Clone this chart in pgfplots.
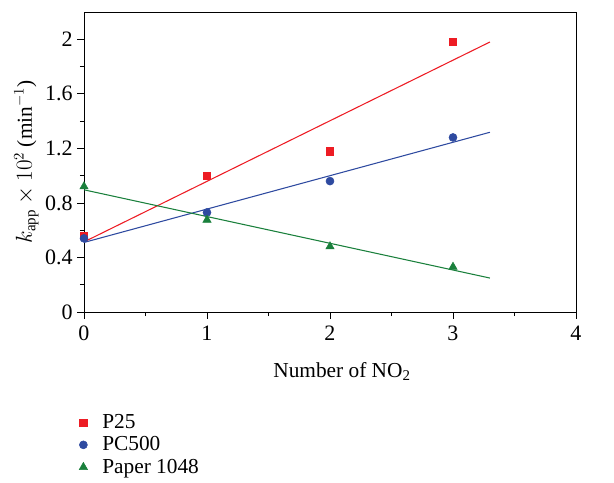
\documentclass[border=0pt]{standalone}
\usepackage{pgfplots}
\pgfplotsset{compat=1.18}
\usepackage{fontspec}
\setmainfont{Liberation Serif}
\definecolor{cred}{RGB}{237,28,36}
\definecolor{cblue}{RGB}{46,74,160}
\definecolor{cgreen}{RGB}{26,128,60}
\begin{document}
\begin{tikzpicture}
\useasboundingbox (-63pt,-127.5pt) rectangle (397.5pt,234pt);
\begin{axis}[
  scale only axis,
  width=369pt, height=225pt,
  xmin=0, xmax=4, ymin=0, ymax=2.2,
  xtick={0,1,2,3,4},
  ytick={0,0.4,0.8,1.2,1.6,2},
  yticklabels={0,0.4,0.8,1.2,1.6,2},
  minor xtick={0.5,1.5,2.5,3.5},
  minor ytick={0.2,0.6,1.0,1.4,1.8},
  tick align=outside,
  major tick length=5pt,
  minor tick length=3pt,
  xtick pos=left, ytick pos=left,
  tick style={black, line width=0.6pt},
  axis line style={line width=0.6pt},
  /pgf/number format/assume math mode=true,
  ticklabel style={font=\fontsize{16.5}{19}\selectfont},
  xticklabel style={yshift=-2pt},
  label style={font=\fontsize{16}{19}\selectfont},
  xlabel={Number of NO\textsubscript{2}},
  ylabel={$k_{\mathrm{app}}\times 10^{2}$ (min$^{-1}$)},
  xlabel style={yshift=-9pt, xshift=9pt},
  ylabel style={yshift=-2pt},
  legend image code/.code={\draw[#1] plot coordinates {(0pt,0pt)}; \path (-5pt,0pt) (12pt,0pt);},
  legend style={at={(-0.024,-0.323)}, anchor=north west, draw=none, fill=none,
    font=\fontsize{16}{19}\selectfont, row sep=0.6pt},
  legend cell align=left,
]
\addplot[only marks, mark=square*, mark size=2.8pt, color=cred] coordinates {(0,0.56) (1,1.00) (2,1.18) (3,1.98)};
\addlegendentry{P25}
\addplot[only marks, mark=*, mark size=3pt, color=cblue] coordinates {(0,0.54) (1,0.73) (2,0.96) (3,1.28)};
\addlegendentry{PC500}
\addplot[only marks, mark=triangle*, mark size=3.6pt, color=cgreen] coordinates {(0,0.92) (1,0.675) (2,0.48) (3,0.33)};
\addlegendentry{Paper 1048}
\addplot[cred, line width=0.8pt, forget plot] coordinates {(0,0.514) (3.3,1.980)};
\addplot[cblue, line width=0.8pt, forget plot] coordinates {(0,0.510) (3.3,1.318)};
\addplot[cgreen, line width=0.8pt, forget plot] coordinates {(0,0.896) (3.3,0.249)};
\end{axis}
\end{tikzpicture}
\end{document}
